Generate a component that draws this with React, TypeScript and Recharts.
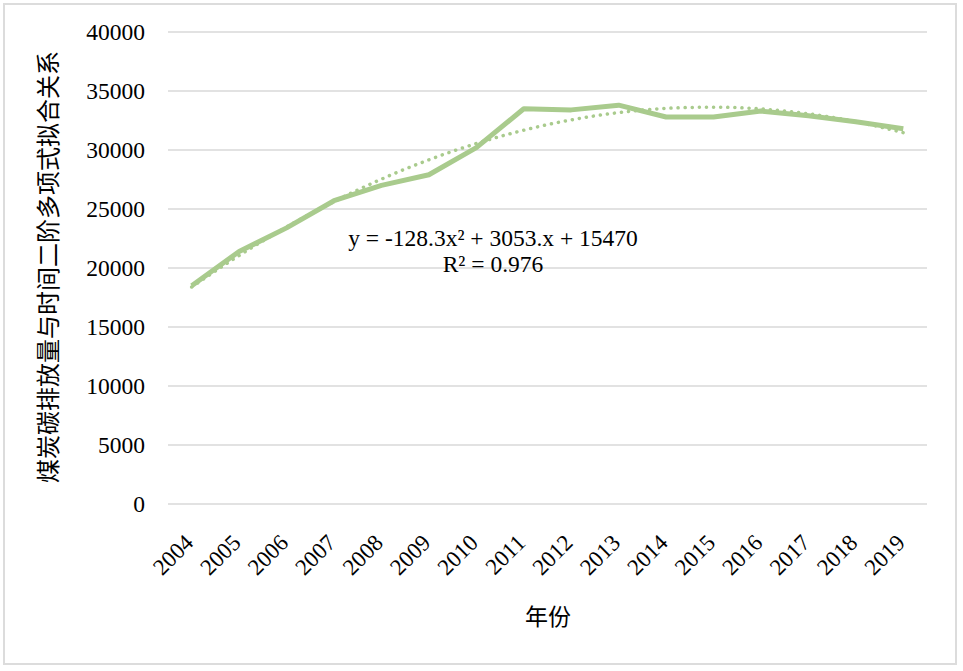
import React from 'react';
import { LineChart, Line, XAxis, YAxis, CartesianGrid } from 'recharts';

// 年份
const years = ['2004', '2005', '2006', '2007', '2008', '2009', '2010', '2011', '2012', '2013', '2014', '2015', '2016', '2017', '2018', '2019'];
// 煤炭碳排放量
const emissions = [18500, 21400, 23400, 25700, 27000, 27900, 30200, 33500, 33400, 33800, 32800, 32800, 33300, 32900, 32400, 31800];
// dotted trend line
const trend = [18390, 21060, 23470, 25630, 27530, 29170, 30550, 31680, 32550, 33170, 33530, 33630, 33480, 33070, 32400, 31470];
const yTicks = [0, 5000, 10000, 15000, 20000, 25000, 30000, 35000, 40000];

const data = years.map((year, i) => ({ year, value: emissions[i], trend: trend[i] }));

const GREEN = '#a9cb8d';
const SERIF = '"Liberation Serif", "Times New Roman", serif';
const CJK = '"Noto Sans CJK SC", sans-serif';

// rotated year labels, like Excel's -45° category labels
const YearTick = ({ x, y, payload }: any) => {
    const ax = x + 3;
    const ay = y + 40;
    return (
        <text x={ax} y={ay} transform={`rotate(-45, ${ax}, ${ay})`} textAnchor="end" fontSize={23} fontFamily={SERIF} fill="#000">
            {payload.value}
        </text>
    );
};

export default function App() {
    return (
        <div style={{ position: 'absolute', left: 0, top: 0, width: 963, height: 671, background: '#fff' }}>
            <div style={{ position: 'absolute', left: 3, top: 3, width: 950, height: 658, border: '2px solid #dcdcdc' }} />
            <LineChart width={963} height={671} data={data} margin={{ top: 32, right: 36, bottom: 107, left: 108 }}>
                <CartesianGrid vertical={false} stroke="#d9d9d9" strokeWidth={1.5} />
                <XAxis
                    dataKey="year"
                    axisLine={false}
                    tickLine={false}
                    tickSize={0}
                    tickMargin={0}
                    height={60}
                    padding={{ left: 23.7, right: 23.7 }}
                    interval={0}
                    tick={<YearTick />}
                />
                <YAxis
                    domain={[0, 40000]}
                    ticks={yTicks}
                    axisLine={false}
                    tickLine={false}
                    tickSize={0}
                    tickMargin={23}
                    width={60}
                    tick={{ fill: '#000', fontSize: 23.5, fontFamily: SERIF }}
                />
                <Line type="linear" dataKey="value" stroke={GREEN} strokeWidth={5} dot={false} isAnimationActive={false} strokeLinejoin="round" />
                <Line
                    type="monotone"
                    dataKey="trend"
                    stroke={GREEN}
                    strokeWidth={3.5}
                    strokeDasharray="0.1 7"
                    strokeLinecap="round"
                    dot={false}
                    isAnimationActive={false}
                />
            </LineChart>
            <div style={{ position: 'absolute', left: 333, top: 225, width: 320, textAlign: 'center', fontFamily: SERIF, fontSize: 23.5, lineHeight: '26px', color: '#000' }}>
                y = -128.3x² + 3053.x + 15470
                <br />
                R² = 0.976
            </div>
            <div
                style={{
                    position: 'absolute',
                    left: 46,
                    top: 267,
                    transform: 'translate(-50%, -50%) rotate(-90deg)',
                    whiteSpace: 'nowrap',
                    fontFamily: CJK,
                    fontSize: 24,
                    color: '#000'
                }}
            >
                煤炭碳排放量与时间二阶多项式拟合关系
            </div>
            <div style={{ position: 'absolute', left: 548, top: 615, transform: 'translate(-50%, -50%)', fontFamily: CJK, fontSize: 23, color: '#000' }}>
                年份
            </div>
        </div>
    );
}
